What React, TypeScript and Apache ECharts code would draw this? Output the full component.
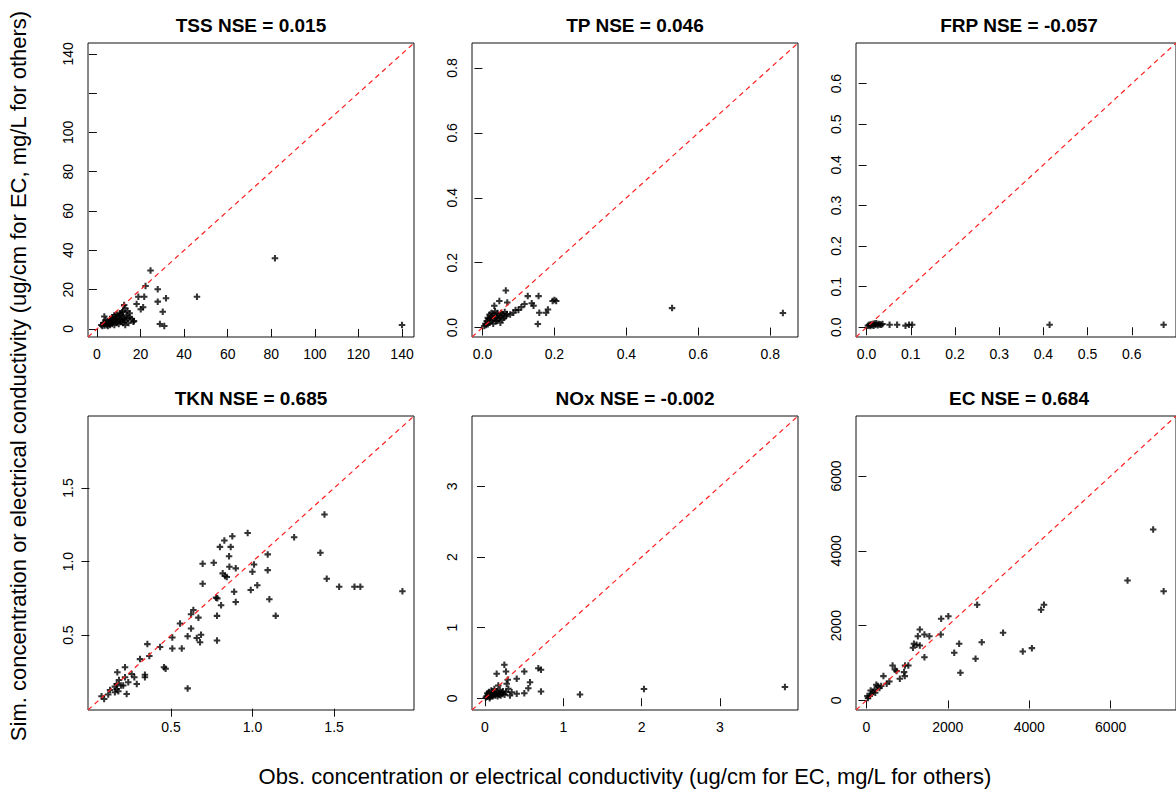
import React, { useEffect, useRef } from "react";
import * as echarts from "echarts";

// ---- data (observed, simulated) ----
const tssPoints: number[][] = [
  [140, 2], [81.7, 36], [45.9, 16.4], [24.6, 29.7], [22.3, 21.9], [27.9, 20.2], [19, 16.4], [21.7, 16.4],
  [27.9, 13.9], [31.7, 15.6], [18.2, 12.7], [20.1, 10.0], [21.2, 11.0], [30.2, 8.7], [16.7, 3.7], [28.9, 2.5],
  [30.9, 1.5], [3.4, 6.3], [12.5, 12.2], [13, 10.5], [14, 9], [11.5, 8.5],
  [2, 2], [2.5, 1.5], [3, 2.5], [3.5, 1.8], [4, 3], [4.5, 2], [5, 3.5], [5, 1.5], [5.5, 2.5], [6, 4], [6, 2],
  [6.5, 3], [7, 5], [7, 2.5], [7.5, 3.5], [8, 4.5], [8, 2], [8.5, 6], [9, 3], [9, 5], [9.5, 4], [10, 6.5],
  [10, 2.5], [10.5, 5], [11, 3.5], [11, 7], [11.5, 4.5], [12, 6], [12, 3], [12.5, 5], [13, 4], [13.5, 7],
  [14, 5.5], [14.5, 3], [15, 6], [15, 8], [16, 5], [17, 4], [9, 7.5], [7, 6], [6, 5], [4, 4.5], [3, 3],
  [12, 9], [10.5, 8], [8, 7], [13, 2],
];
const tpPoints: number[][] = [
  [0.065, 0.114], [0.033, 0.067], [0.047, 0.082], [0.069, 0.077], [0.126, 0.097], [0.156, 0.097],
  [0.117, 0.073], [0.108, 0.063], [0.1, 0.054], [0.137, 0.075], [0.142, 0.067], [0.2, 0.085], [0.195, 0.082],
  [0.205, 0.082], [0.182, 0.056], [0.177, 0.046], [0.158, 0.046], [0.154, 0.011], [0.086, 0.046],
  [0.077, 0.04], [0.092, 0.054], [0.527, 0.06], [0.835, 0.045],
  [0.005, 0.005], [0.008, 0.012], [0.01, 0.008], [0.012, 0.02], [0.015, 0.01], [0.017, 0.025], [0.02, 0.015],
  [0.022, 0.03], [0.025, 0.02], [0.027, 0.035], [0.03, 0.025], [0.03, 0.012], [0.032, 0.04], [0.035, 0.03],
  [0.037, 0.02], [0.04, 0.035], [0.042, 0.045], [0.045, 0.028], [0.047, 0.038], [0.05, 0.032], [0.052, 0.045],
  [0.055, 0.025], [0.057, 0.04], [0.06, 0.03], [0.062, 0.048], [0.065, 0.035], [0.068, 0.042], [0.02, 0.04],
  [0.025, 0.045], [0.015, 0.03], [0.035, 0.05], [0.04, 0.02], [0.05, 0.015],
];
const frpPoints: number[][] = [
  [0.003, 0.004], [0.006, 0.006], [0.008, 0.003], [0.01, 0.007], [0.012, 0.005], [0.014, 0.008],
  [0.016, 0.004], [0.018, 0.009], [0.02, 0.006], [0.022, 0.01], [0.025, 0.005], [0.027, 0.008],
  [0.03, 0.007], [0.033, 0.006], [0.036, 0.008], [0.052, 0.006], [0.069, 0.006], [0.088, 0.004],
  [0.096, 0.006], [0.103, 0.006], [0.414, 0.006], [0.672, 0.006],
];
const tknPoints: number[][] = [
  [1.441, 1.32], [0.97, 1.195], [1.255, 1.166], [0.876, 1.173], [0.827, 1.144], [0.8, 1.1], [0.866, 1.1],
  [0.856, 1.037], [0.858, 0.965], [0.897, 0.954], [0.694, 0.985], [0.762, 0.992], [0.694, 0.85], [0.817, 0.92],
  [0.831, 0.902], [0.842, 0.895], [1.093, 1.049], [1.093, 0.942], [1.009, 0.981], [0.999, 0.931],
  [1.029, 0.839], [0.989, 0.807], [0.887, 0.795], [0.897, 0.726], [1.103, 0.744], [1.142, 0.631],
  [1.416, 1.06], [1.455, 0.883], [1.531, 0.829], [1.625, 0.829], [1.661, 0.829], [1.919, 0.798],
  [0.776, 0.755], [0.784, 0.75], [0.807, 0.703], [0.782, 0.631], [0.782, 0.463], [0.637, 0.671],
  [0.623, 0.642], [0.668, 0.619], [0.555, 0.579], [0.623, 0.545], [0.602, 0.493], [0.658, 0.48],
  [0.684, 0.502], [0.678, 0.452], [0.508, 0.484], [0.508, 0.409], [0.566, 0.409], [0.433, 0.42],
  [0.355, 0.439], [0.367, 0.358], [0.31, 0.337], [0.457, 0.281], [0.467, 0.272], [0.602, 0.138],
  [0.34, 0.231], [0.34, 0.213], [0.29, 0.168], [0.259, 0.236], [0.218, 0.281], [0.171, 0.247],
  [0.218, 0.213], [0.238, 0.179], [0.181, 0.195], [0.228, 0.1], [0.167, 0.134], [0.177, 0.118],
  [0.156, 0.111], [0.126, 0.127], [0.115, 0.096], [0.074, 0.084], [0.09, 0.066], [0.193, 0.157],
  [0.156, 0.15], [0.207, 0.157], [0.275, 0.213], [0.167, 0.168],
];
const noxPoints: number[][] = [
  [0.247, 0.474], [0.149, 0.347], [0.268, 0.38], [0.502, 0.38], [0.681, 0.426], [0.715, 0.404],
  [0.405, 0.276], [0.575, 0.228], [0.553, 0.143], [0.715, 0.096], [0.502, 0.072], [0.405, 0.064],
  [0.319, 0.04], [0.29, 0.262], [0.277, 0.205], [0.298, 0.134], [0.341, 0.086], [0.17, 0.181],
  [1.213, 0.054], [2.03, 0.13], [3.83, 0.16],
  [0.01, 0.01], [0.02, 0.03], [0.03, 0.02], [0.04, 0.05], [0.05, 0.03], [0.06, 0.06], [0.07, 0.02],
  [0.08, 0.04], [0.09, 0.07], [0.1, 0.03], [0.11, 0.05], [0.12, 0.08], [0.13, 0.04], [0.14, 0.06],
  [0.15, 0.1], [0.16, 0.03], [0.17, 0.07], [0.18, 0.05], [0.19, 0.12], [0.2, 0.04], [0.21, 0.08],
  [0.22, 0.06], [0.23, 0.1], [0.05, 0.09], [0.08, 0.11], [0.12, 0.13], [0.03, 0.07], [0.25, 0.05],
  [0.27, 0.09], [0.06, 0.0],
];
const ecPoints: number[][] = [
  [7044, 4569], [6415, 3206], [7302, 2921], [4290, 2423], [4362, 2557], [2720, 2557], [1836, 2182],
  [2012, 2253], [1826, 1763], [3357, 1808], [4065, 1398], [3841, 1309], [2833, 1558], [2278, 1514],
  [2157, 1274], [2681, 1114], [2309, 740], [1312, 1897], [1263, 1718], [1425, 1763], [1546, 1718],
  [1167, 1514], [1232, 1488], [1312, 1469], [1143, 1407], [1425, 1157], [643, 935], [700, 828],
  [740, 784], [949, 935], [1030, 935], [925, 757], [942, 650], [821, 579], [418, 650], [498, 445],
  [563, 508], [280, 383], [242, 419], [321, 330], [200, 294], [160, 222], [121, 178], [80, 116],
  [39, 62], [217, 205], [104, 267], [24, 116], [362, 383],
];

const panelNames = ["TSS", "TP", "FRP", "TKN", "NOx", "EC"];
const panelNse = ["0.015", "0.046", "-0.057", "0.685", "-0.002", "0.684"];
const panelData = [tssPoints, tpPoints, frpPoints, tknPoints, noxPoints, ecPoints];
const panelLimits: number[][] = [
  [-4.1, 145.5], [-0.029, 0.877], [-0.024, 0.7], [-0.009, 1.99], [-0.166, 3.997], [-256, 7605],
];
const tickValues: number[][] = [
  [0, 20, 40, 60, 80, 100, 120, 140],
  [0, 0.2, 0.4, 0.6, 0.8],
  [0, 0.1, 0.2, 0.3, 0.4, 0.5, 0.6],
  [0.5, 1.0, 1.5],
  [0, 1, 2, 3],
  [0, 2000, 4000, 6000],
];
const yLabelValues: number[][] = [
  [0, 20, 40, 60, 80, 100, 140],
  [0, 0.2, 0.4, 0.6, 0.8],
  [0, 0.1, 0.2, 0.3, 0.4, 0.5, 0.6],
  [0.5, 1.0, 1.5],
  [0, 1, 2, 3],
  [0, 2000, 4000, 6000],
];
const labelDecimals = [0, 1, 1, 1, 0, 0];

const xTitle = "Obs. concentration or electrical conductivity (ug/cm for EC, mg/L for others)";
const yTitle = "Sim. concentration or electrical conductivity (ug/cm for EC, mg/L for others)";

const FONT = "'Liberation Sans', Arial, Helvetica, sans-serif";
const PLUS = "path://M2.4,0H4.6V2.4H7V4.6H4.6V7H2.4V4.6H0V2.4H2.4Z";

export default function App() {
  const ref = useRef<HTMLDivElement>(null);
  useEffect(() => {
    if (!ref.current) return;
    const chart = echarts.init(ref.current, undefined, { renderer: "svg" });
    const lefts = [88, 472, 856];
    const tops = [43, 416];
    const W = 326;
    const H = 294;
    const grids: any[] = [];
    const xAxes: any[] = [];
    const yAxes: any[] = [];
    const series: any[] = [];
    const graphics: any[] = [];
    for (let i = 0; i < 6; i++) {
      const col = i % 3;
      const row = Math.floor(i / 3);
      const [lo, hi] = panelLimits[i];
      const dec = labelDecimals[i];
      grids.push({
        left: lefts[col], top: tops[row], width: W, height: H,
        show: true, borderColor: "#111", borderWidth: 1, backgroundColor: "transparent",
      });
      const common = {
        type: "value", gridIndex: i, min: lo, max: hi,
        axisLine: { show: false },
        splitLine: { show: false },
        axisTick: { show: true, inside: false, length: 8, lineStyle: { color: "#111", width: 1 }, customValues: tickValues[i] },
      };
      xAxes.push({
        ...common,
        axisLabel: {
          show: true, margin: 10, color: "#000", fontSize: 14, fontFamily: FONT,
          customValues: tickValues[i], hideOverlap: false,
          formatter: (v: number) => v.toFixed(dec),
        },
      });
      yAxes.push({
        ...common,
        axisLabel: {
          show: true, margin: 13, rotate: 90, color: "#000", fontSize: 14, fontFamily: FONT,
          customValues: yLabelValues[i], hideOverlap: false,
          formatter: (v: number) => v.toFixed(dec),
        },
      });
      series.push({
        type: "scatter", xAxisIndex: i, yAxisIndex: i,
        data: panelData[i], symbol: PLUS, symbolSize: 6.5,
        itemStyle: { color: "#000" }, silent: true, z: 2,
      });
      series.push({
        type: "line", xAxisIndex: i, yAxisIndex: i,
        data: [[lo, lo], [hi, hi]], symbol: "none", showSymbol: false, silent: true, z: 3,
        lineStyle: { color: "#ff2020", width: 1.2, type: [5, 4] },
      });
      graphics.push({
        type: "text", x: lefts[col] + W / 2, y: tops[row] - 18,
        style: {
          text: `${panelNames[i]} NSE = ${panelNse[i]}`, fill: "#000",
          font: `bold 19px ${FONT}`, align: "center", verticalAlign: "middle",
        },
      });
    }
    graphics.push({
      type: "text", x: 625, y: 776,
      style: { text: xTitle, fill: "#000", font: `22px ${FONT}`, align: "center", verticalAlign: "middle" },
    });
    graphics.push({
      type: "text", x: 18, y: 376, rotation: Math.PI / 2,
      style: { text: yTitle, fill: "#000", font: `22px ${FONT}`, align: "center", verticalAlign: "middle" },
    });
    chart.setOption({
      animation: false,
      backgroundColor: "#fff",
      grid: grids,
      xAxis: xAxes,
      yAxis: yAxes,
      series,
      graphic: graphics,
    });
    return () => chart.dispose();
  }, []);
  return (
    <div
      ref={ref}
      style={{ position: "fixed", left: 0, top: 0, width: 1176, height: 792 }}
    />
  );
}
